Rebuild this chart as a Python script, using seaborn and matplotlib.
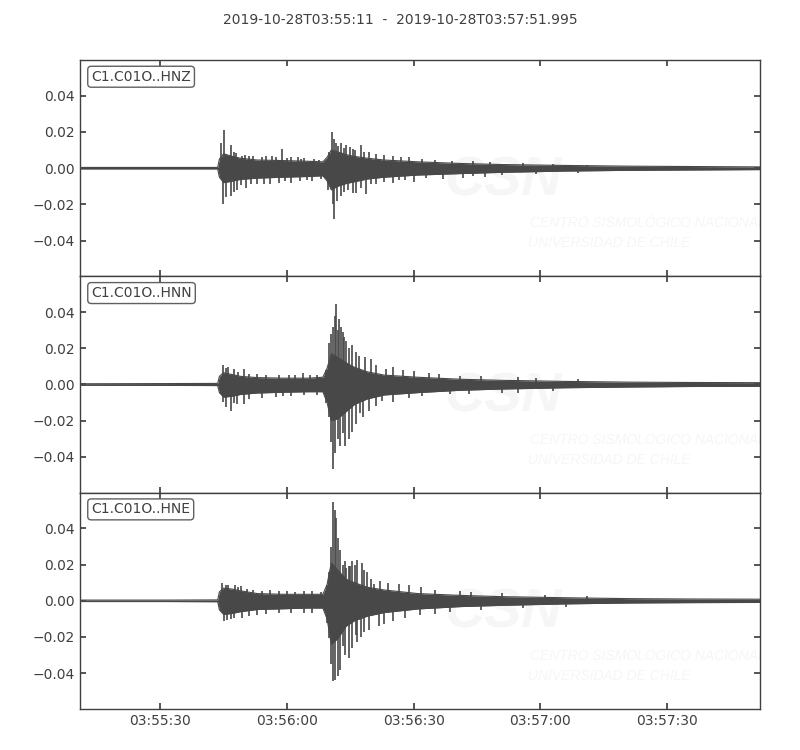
import numpy as np
import pandas as pd
import matplotlib
matplotlib.use("Agg")
import matplotlib.pyplot as plt
import seaborn as sns

# ---------------- data (seconds after 2019-10-28T03:55:11) ----------------
title_text = "2019-10-28T03:55:11  -  2019-10-28T03:57:51.995"
trace_ids = ["C1.C01O..HNZ", "C1.C01O..HNN", "C1.C01O..HNE"]
t_end = 160.995
tick_pos = [19, 49, 79, 109, 139]
tick_labels = ["03:55:30", "03:56:00", "03:56:30", "03:57:00", "03:57:30"]
y_ticks = [-0.04, -0.02, 0.0, 0.02, 0.04]

# envelope (core) of each trace
env_t = [0, 20, 32.6, 33, 34, 36, 38, 42, 48, 54, 57.5, 58.5, 59.5, 61, 63, 65,
         68, 72, 80, 90, 100, 115, 130, 145, 161]

hnz_up = [.0004, .0004, .0004, .005, .008, .0065, .0055, .0045, .0042, .0038, .0035,
          .006, .010, .009, .0075, .0065, .0055, .0045, .0035, .0026, .002, .0015,
          .0011, .0009, .0007]
hnz_lo = [-.0004, -.0004, -.0004, -.005, -.008, -.0072, -.0062, -.0055, -.005,
          -.0046, -.0042, -.007, -.012, -.010, -.0085, -.0075, -.006, -.005, -.0038,
          -.003, -.0023, -.0016, -.0012, -.001, -.0008]

hnn_up = [.0004, .0005, .0006, .0045, .0065, .0055, .0045, .0038, .0035, .0035, .004,
          .009, .017, .015, .012, .0095, .007, .0052, .004, .0029, .0023, .0017,
          .0013, .0011, .001]
hnn_lo = [-.0004, -.0005, -.0006, -.0045, -.007, -.0065, -.0055, -.0047, -.0043,
          -.004, -.004, -.010, -.020, -.019, -.015, -.011, -.008, -.0058, -.0045,
          -.0032, -.0025, -.0018, -.0014, -.0011, -.001]

hne_up = [.0004, .0004, .0005, .005, .007, .0065, .0055, .004, .0036, .0036, .0036,
          .009, .021, .017, .012, .010, .0075, .006, .004, .003, .0023, .0017,
          .0012, .001, .0009]
hne_lo = [-.0004, -.0004, -.0005, -.005, -.0075, -.007, -.006, -.0048, -.0044,
          -.004, -.004, -.010, -.024, -.021, -.014, -.011, -.0085, -.0065, -.0045,
          -.0032, -.0025, -.0017, -.0012, -.001, -.0009]

# individual peaks (time, amplitude)
hnz_peak_t = [33.4, 34.2, 35.8, 37.0, 39.0, 41.0, 44.0, 47.8, 50.0, 53.0, 59.7,
              60.7, 61.8, 63.0, 64.6, 66.5, 68.5, 72.0, 76.0, 84.0, 93.0,
              36.5, 38.3, 40.0, 43.0, 45.5, 46.5, 49.0, 51.5, 52.3, 55.5, 56.5,
              58.9, 60.2, 61.2, 62.5, 64.0, 65.2, 67.3, 70.0, 74.0, 78.0, 81.0,
              88.0, 97.0, 105.0, 112.0, 120.0,
              33.8, 34.5, 35.8, 37.2, 39.3, 42.0, 45.0, 50.0, 55.0, 59.8, 60.2,
              61.8, 64.6, 65.4, 67.7, 70.0, 74.0, 75.6, 79.0, 86.0, 90.6, 96.0,
              36.4, 38.2, 40.5, 43.5, 47.0, 48.5, 52.0, 53.8, 57.0, 58.8, 60.8,
              62.6, 63.5, 66.5, 69.0, 72.0, 77.0, 82.0, 93.0, 100.0, 108.0, 118.0]
hnz_peak_v = [0.014, 0.021, 0.013, 0.0085, 0.0075, 0.007, 0.0068, 0.0107, 0.006,
              0.0055, 0.020, 0.014, 0.014, 0.013, 0.0105, 0.013, 0.009, 0.0075,
              0.006, 0.0045, 0.004,
              0.009, 0.007, 0.0065, 0.006, 0.0065, 0.006, 0.0055, 0.006, 0.005,
              0.005, 0.0045, 0.009, 0.016, 0.012, 0.011, 0.0115, 0.010, 0.009,
              0.008, 0.0065, 0.006, 0.005, 0.0042, 0.0035, 0.003, 0.0025, 0.002,
              -0.020, -0.016, -0.0155, -0.012, -0.011, -0.009, -0.0085, -0.008,
              -0.007, -0.020, -0.028, -0.0155, -0.0136, -0.014, -0.0145, -0.009,
              -0.008, -0.0065, -0.0075, -0.006, -0.0055, -0.005,
              -0.013, -0.0095, -0.009, -0.0085, -0.008, -0.007, -0.007, -0.0065,
              -0.006, -0.012, -0.018, -0.013, -0.012, -0.011, -0.009, -0.0075,
              -0.0065, -0.0055, -0.0045, -0.004, -0.0033, -0.0025]

hnn_peak_t = [33.9, 35.0, 36.5, 38.9, 42.0, 52.7, 56.2, 59.0, 60.0, 60.6, 61.4,
              62.2, 63.0, 63.8, 65.4, 68.9, 72.5, 76.4, 82.7, 89.9, 103.7,
              34.5, 37.5, 40.0, 44.0, 47.0, 49.5, 51.0, 54.5, 58.2, 59.5, 60.3,
              61.0, 61.8, 62.6, 64.3, 66.0, 67.5, 70.0, 74.0, 79.0, 85.0, 95.0,
              108.0, 118.0,
              33.8, 35.8, 37.2, 38.9, 46.4, 50.0, 59.0, 60.0, 61.0, 62.2, 63.8,
              65.4, 66.2, 68.5, 71.6, 78.0, 87.5, 103.6,
              34.5, 36.5, 40.0, 43.0, 48.0, 53.0, 56.0, 58.3, 59.5, 60.4, 61.5,
              62.8, 64.5, 67.0, 70.0, 74.0, 81.0, 92.0, 100.0, 112.0]
hnn_peak_v = [0.0105, 0.0095, 0.0083, 0.0087, 0.006, 0.0065, 0.0055, 0.023,
              0.0316, 0.0445, 0.036, 0.029, 0.024, 0.020, 0.018, 0.0142, 0.0087,
              0.008, 0.0062, 0.0045, 0.0042,
              0.009, 0.007, 0.006, 0.0055, 0.0055, 0.005, 0.0055, 0.005, 0.008,
              0.028, 0.038, 0.030, 0.032, 0.026, 0.022, 0.016, 0.015, 0.011,
              0.0095, 0.0075, 0.0058, 0.0045, 0.0035, 0.003,
              -0.0098, -0.0144, -0.011, -0.0107, -0.007, -0.0065, -0.018, -0.0466,
              -0.030, -0.027, -0.030, -0.022, -0.016, -0.0145, -0.009, -0.0077,
              -0.0055, -0.0045,
              -0.0125, -0.0105, -0.008, -0.0075, -0.0065, -0.006, -0.0058, -0.010,
              -0.032, -0.038, -0.034, -0.034, -0.026, -0.018, -0.012, -0.0095,
              -0.0065, -0.005, -0.0045, -0.0035]

hne_peak_t = [33.6, 35.0, 36.6, 38.0, 41.0, 45.0, 49.0, 53.0, 59.0, 60.0, 60.5,
              61.0, 62.2, 63.0, 63.8, 64.5, 65.7, 66.8, 68.0, 69.7, 75.6, 80.8,
              92.6,
              34.5, 37.3, 39.5, 43.0, 47.0, 51.0, 55.0, 57.0, 58.4, 59.5, 60.3,
              61.5, 62.7, 64.0, 65.2, 67.3, 69.0, 71.0, 73.0, 78.0, 84.0, 90.0,
              100.0, 110.0, 120.0,
              34.2, 35.8, 38.4, 42.0, 47.0, 53.0, 59.0, 60.0, 61.0, 62.2, 63.8,
              65.4, 65.7, 67.3, 70.9, 74.0, 80.4, 87.5,
              34.7, 36.5, 40.0, 44.0, 50.0, 55.0, 58.4, 59.5, 60.4, 61.5, 62.8,
              64.5, 66.5, 68.5, 72.0, 77.0, 84.0, 95.0, 105.0, 115.0]
hne_peak_v = [0.0098, 0.009, 0.0085, 0.008, 0.006, 0.006, 0.0055, 0.0055, 0.016,
              0.0548, 0.0457, 0.035, 0.020, 0.018, 0.019, 0.022, 0.0226, 0.021,
              0.016, 0.0095, 0.0095, 0.0078, 0.005,
              0.0085, 0.0075, 0.0065, 0.0055, 0.0055, 0.005, 0.0055, 0.005, 0.009,
              0.030, 0.050, 0.028, 0.022, 0.019, 0.020, 0.017, 0.012, 0.011, 0.010,
              0.009, 0.006, 0.0052, 0.0042, 0.003, 0.0025,
              -0.0114, -0.010, -0.0096, -0.008, -0.007, -0.0065, -0.0204, -0.0445,
              -0.0418, -0.025, -0.0316, -0.0188, -0.023, -0.017, -0.014, -0.011,
              -0.008, -0.006,
              -0.0105, -0.0095, -0.0085, -0.0075, -0.0065, -0.0065, -0.012, -0.035,
              -0.044, -0.038, -0.030, -0.026, -0.020, -0.016, -0.013, -0.0095,
              -0.0075, -0.005, -0.0042, -0.0032]

traces = [
    (hnz_up, hnz_lo, hnz_peak_t, hnz_peak_v),
    (hnn_up, hnn_lo, hnn_peak_t, hnn_peak_v),
    (hne_up, hne_lo, hne_peak_t, hne_peak_v),
]

# ---------------- style ----------------
sns.set_theme(style="ticks")
plt.rcParams["font.family"] = ["DejaVu Sans"]
txt_col = "#404040"
wave_col = "#484848"
wm_col = "#f6f6f6"
plt.rcParams.update({
    "axes.edgecolor": txt_col,
    "axes.linewidth": 1.0,
    "xtick.color": txt_col,
    "ytick.color": txt_col,
    "xtick.labelcolor": txt_col,
    "ytick.labelcolor": txt_col,
    "xtick.direction": "in",
    "ytick.direction": "in",
    "xtick.major.size": 4,
    "ytick.major.size": 4,
    "xtick.labelsize": 10,
    "ytick.labelsize": 10,
})

fig = plt.figure(figsize=(8, 7.5), dpi=100)
left, right, top, bottom = 0.10, 0.95, 0.92, 0.0547
h = (top - bottom) / 3

for i, (tid, (up, lo, pt, pv)) in enumerate(zip(trace_ids, traces)):
    ax = fig.add_axes([left, top - (i + 1) * h, right - left, h])
    # faint watermark
    ax.text(0.622, 0.44, "CSN", transform=ax.transAxes, ha="center", va="center",
            fontsize=40, fontweight="bold", style="italic", color=wm_col,
            family="Liberation Sans", zorder=0)
    ax.text(0.662, 0.245, "CENTRO SISMOLÓGICO NACIONAL", transform=ax.transAxes,
            ha="left", va="center", fontsize=10, style="italic", color=wm_col,
            family="Liberation Sans", zorder=0, clip_on=True)
    ax.text(0.659, 0.153, "UNIVERSIDAD DE CHILE", transform=ax.transAxes,
            ha="left", va="center", fontsize=10, style="italic", color=wm_col,
            family="Liberation Sans", zorder=0, clip_on=True)

    df = pd.DataFrame({"t": env_t, "up": up, "lo": lo})
    ax.fill_between(df["t"], df["lo"], df["up"], color=wave_col, lw=0, zorder=2)
    sns.lineplot(data=df, x="t", y="up", ax=ax, color=wave_col, lw=0.8,
                 estimator=None, sort=False, zorder=3)
    sns.lineplot(data=df, x="t", y="lo", ax=ax, color=wave_col, lw=0.8,
                 estimator=None, sort=False, zorder=3)
    ax.vlines(pt, 0, pv, color=wave_col, lw=1.2, zorder=3)

    ax.set_xlim(0, t_end)
    ax.set_ylim(-0.0598, 0.0598)
    ax.set_yticks(y_ticks)
    ax.set_yticklabels([f"{v:.2f}".replace("-", "\u2212") for v in y_ticks])
    ax.set_xticks(tick_pos)
    ax.tick_params(top=True, right=True)
    ax.set_xlabel("")
    ax.set_ylabel("")
    if i == 2:
        ax.set_xticklabels(tick_labels)
    else:
        ax.set_xticklabels([])
    for s in ax.spines.values():
        s.set_visible(True)
        s.set_color(txt_col)
    ax.text(0.0165, 0.955, tid, transform=ax.transAxes, ha="left", va="top",
            fontsize=10, color=txt_col, zorder=5,
            bbox=dict(boxstyle="round,pad=0.25", fc="white", ec="#606060", lw=1))

fig.text(0.5, 0.973, title_text, ha="center", va="center", fontsize=10,
         color=txt_col)

fig.savefig("out.png", dpi=100)
